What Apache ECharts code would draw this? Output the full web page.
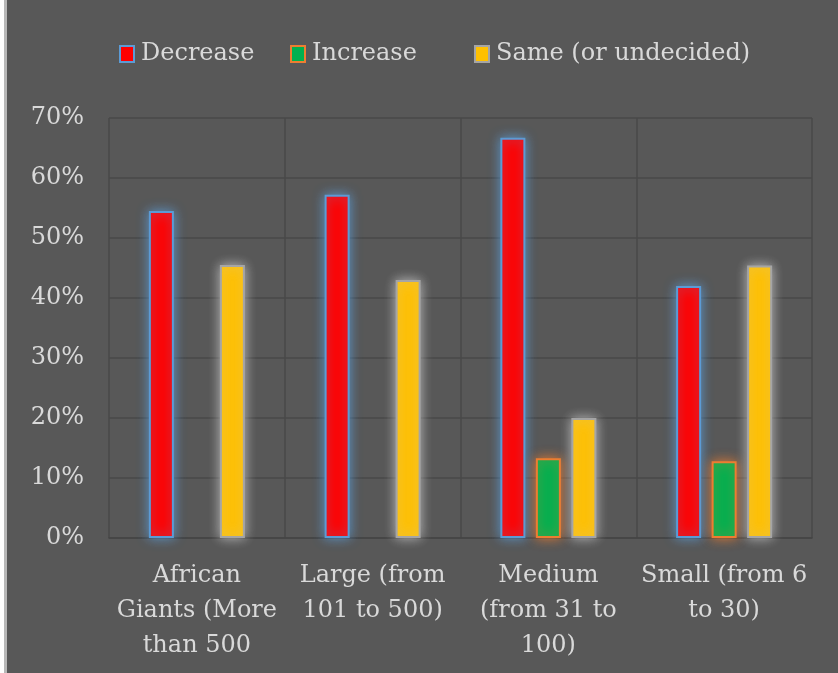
<!DOCTYPE html>
<html>
<head>
<meta charset="utf-8">
<script src="https://cdn.jsdelivr.net/npm/echarts@6/dist/echarts.min.js"></script>
<style>
  html, body { margin: 0; padding: 0; background: #ffffff; }
  #edge { position: absolute; left: 4px; top: 0; width: 3px; height: 673px; background: #b8b8b8; }
  #chart { position: absolute; left: 7px; top: 0; width: 831px; height: 673px; background: #585858; }
</style>
</head>
<body>
<div id="edge"></div>
<div id="chart"></div>
<script>
// Company-size groups
const categories = [
  'African\nGiants (More\nthan 500',
  'Large (from\n101 to 500)',
  'Medium\n(from 31 to\n100)',
  'Small (from 6\nto 30)'
];
// Share of answers per group, in percent
const decreaseValues = [54.5, 57.2, 66.7, 42.0];
const increaseValues = [null, null, 13.3, 12.8];
const sameValues = [45.5, 43.0, 20.0, 45.4];
const seriesNames = ['Decrease', 'Increase', 'Same (or undecided)'];
const yTicks = { min: 0, max: 70, interval: 10 };

const FONT = 'DejaVu Serif';
const TEXT = '#d9d9d9';

function barSeries(name, data, fill, border, glow) {
  return {
    name: name,
    type: 'bar',
    data: data,
    barWidth: 25,
    barGap: '42%',
    itemStyle: {
      color: fill,
      borderColor: border,
      borderWidth: 2,
      shadowColor: glow,
      shadowBlur: 12
    }
  };
}

function legendAt(left, name) {
  return {
    data: [name],
    left: left,
    top: 42,
    padding: 0,
    itemWidth: 14,
    itemHeight: 16,
    icon: 'rect',
    selectedMode: false,
    itemStyle: { shadowBlur: 0, borderWidth: 2 },
    textStyle: { color: TEXT, fontFamily: FONT, fontSize: 24, padding: [0, 0, 0, 2] }
  };
}

const chart = echarts.init(document.getElementById('chart'));
chart.setOption({
  backgroundColor: '#585858',
  animation: false,
  legend: [
    legendAt(112, seriesNames[0]),
    legendAt(283, seriesNames[1]),
    legendAt(467, seriesNames[2])
  ],
  grid: { left: 102, right: 26, top: 118, bottom: 135 },
  xAxis: {
    type: 'category',
    data: categories,
    axisLine: { show: true, lineStyle: { color: '#444444', width: 1.5 } },
    axisTick: { show: false },
    splitLine: { show: true, interval: 0, lineStyle: { color: '#484848', width: 1.5 } },
    axisLabel: {
      interval: 0,
      color: TEXT,
      fontFamily: FONT,
      fontSize: 24,
      lineHeight: 35,
      margin: 20,
      align: 'center'
    }
  },
  yAxis: {
    type: 'value',
    min: yTicks.min,
    max: yTicks.max,
    interval: yTicks.interval,
    axisLine: { show: false },
    axisTick: { show: false },
    splitLine: { show: true, lineStyle: { color: '#484848', width: 1.5 } },
    axisLabel: {
      color: TEXT,
      fontFamily: FONT,
      fontSize: 24,
      margin: 25,
      formatter: v => v + '%'
    }
  },
  series: [
    barSeries(seriesNames[0], decreaseValues, '#ff0000', '#5b9bd5', 'rgba(91,155,213,0.9)'),
    barSeries(seriesNames[1], increaseValues, '#00b050', '#ed7d31', 'rgba(237,125,49,0.9)'),
    barSeries(seriesNames[2], sameValues, '#ffc000', '#a5a5a5', 'rgba(200,200,200,0.85)')
  ]
});
</script>
</body>
</html>
